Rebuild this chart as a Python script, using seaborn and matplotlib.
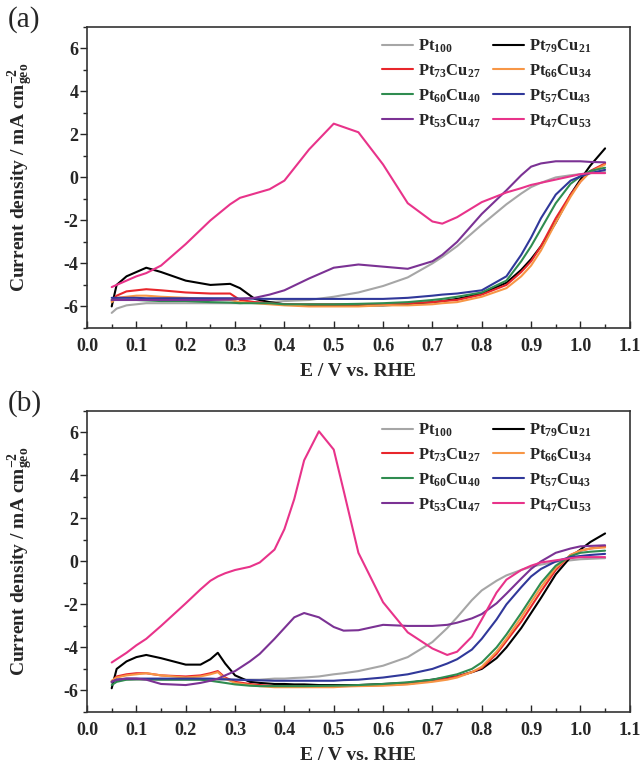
import numpy as np
import pandas as pd
import matplotlib
matplotlib.use('Agg')
import matplotlib.pyplot as plt
from matplotlib.ticker import MultipleLocator
import seaborn as sns

sns.set_style('ticks')
plt.rcParams['font.family'] = ['Liberation Serif', 'DejaVu Serif']
plt.rcParams['font.weight'] = 'bold'
plt.rcParams['mathtext.fontset'] = 'custom'
plt.rcParams['mathtext.rm'] = 'Liberation Serif:bold'
plt.rcParams['mathtext.it'] = 'Liberation Serif:bold'
plt.rcParams['mathtext.bf'] = 'Liberation Serif:bold'
plt.rcParams['axes.unicode_minus'] = False

alloys = [r'Pt$_{100}$', r'Pt$_{79}$Cu$_{21}$', r'Pt$_{73}$Cu$_{27}$', r'Pt$_{66}$Cu$_{34}$',
          r'Pt$_{60}$Cu$_{40}$', r'Pt$_{57}$Cu$_{43}$', r'Pt$_{53}$Cu$_{47}$', r'Pt$_{47}$Cu$_{53}$']
colours = ['#a6a6a6', '#000000', '#e8262b', '#f79646', '#2f8c50', '#30389a', '#7b3294', '#e8338a']

# ---- panel (a) ----
E_a = [0.05, 0.06, 0.08, 0.10, 0.12, 0.15, 0.20, 0.25, 0.29, 0.31, 0.34, 0.37, 0.40, 0.45, 0.50, 0.55,
       0.60, 0.65, 0.70, 0.72, 0.75, 0.80, 0.85, 0.88, 0.90, 0.92, 0.95, 0.98, 1.00, 1.02, 1.05]
a_pt100 = [-6.3, -6.1, -5.95, -5.9, -5.85, -5.85, -5.85, -5.85, -5.85, -5.85, -5.8, -5.8, -5.75, -5.7, -5.55, -5.35,
           -5.05, -4.65, -4.0, -3.7, -3.2, -2.2, -1.25, -0.75, -0.45, -0.25, 0.0, 0.1, 0.15, 0.2, 0.25]
a_pt79 = [-6.0, -5.0, -4.6, -4.4, -4.2, -4.4, -4.8, -5.0, -4.95, -5.15, -5.65, -5.8, -5.9, -5.95, -5.95, -5.95,
          -5.95, -5.9, -5.8, -5.75, -5.65, -5.4, -4.9, -4.3, -3.8, -3.2, -2.1, -0.8, -0.1, 0.55, 1.35]
a_pt73 = [-5.75, -5.5, -5.3, -5.25, -5.2, -5.25, -5.35, -5.4, -5.4, -5.7, -5.8, -5.85, -5.9, -5.9, -5.9, -5.9,
          -5.9, -5.85, -5.8, -5.75, -5.7, -5.45, -5.0, -4.4, -3.9, -3.2, -1.9, -0.8, -0.2, 0.3, 0.65]
a_pt66 = [-5.8, -5.6, -5.55, -5.5, -5.5, -5.55, -5.6, -5.65, -5.7, -5.8, -5.85, -5.9, -5.95, -6.0, -6.0, -6.0,
          -5.95, -5.95, -5.9, -5.85, -5.8, -5.55, -5.15, -4.6, -4.1, -3.4, -2.1, -0.9, -0.2, 0.25, 0.6]
a_pt60 = [-5.7, -5.7, -5.7, -5.7, -5.72, -5.75, -5.75, -5.8, -5.82, -5.85, -5.85, -5.85, -5.9, -5.9, -5.9, -5.88,
          -5.85, -5.8, -5.7, -5.65, -5.55, -5.35, -4.8, -3.9, -3.2, -2.4, -1.2, -0.3, 0.05, 0.3, 0.45]
a_pt57 = [-5.6, -5.6, -5.6, -5.6, -5.62, -5.62, -5.62, -5.62, -5.62, -5.63, -5.64, -5.65, -5.65, -5.65, -5.65, -5.65,
          -5.65, -5.6, -5.5, -5.45, -5.4, -5.25, -4.6, -3.6, -2.8, -1.9, -0.8, -0.15, 0.05, 0.2, 0.35]
a_pt53 = [-5.7, -5.7, -5.7, -5.7, -5.7, -5.7, -5.7, -5.7, -5.68, -5.65, -5.6, -5.45, -5.25, -4.7, -4.2, -4.05,
          -4.15, -4.25, -3.9, -3.6, -3.0, -1.7, -0.6, 0.1, 0.5, 0.65, 0.75, 0.75, 0.75, 0.72, 0.7]
a_pt47 = [-5.1, -5.0, -4.8, -4.6, -4.45, -4.1, -3.1, -2.0, -1.25, -0.95, -0.75, -0.55, -0.15, 1.3, 2.5, 2.1,
          0.6, -1.2, -2.05, -2.15, -1.85, -1.15, -0.7, -0.5, -0.35, -0.25, -0.1, 0.05, 0.15, 0.2, 0.2]

# ---- panel (b) ----
E_b = [0.05, 0.06, 0.08, 0.10, 0.12, 0.15, 0.20, 0.23, 0.25, 0.265, 0.28, 0.30, 0.33, 0.35, 0.38, 0.40,
       0.42, 0.44, 0.47, 0.50, 0.52, 0.55, 0.60, 0.65, 0.70, 0.73, 0.75, 0.78, 0.80, 0.83, 0.85, 0.88,
       0.90, 0.92, 0.95, 0.98, 1.00, 1.02, 1.05]
b_pt100 = [-5.65, -5.55, -5.5, -5.5, -5.5, -5.5, -5.5, -5.5, -5.5, -5.5, -5.5, -5.5, -5.5, -5.5, -5.45, -5.45,
           -5.42, -5.4, -5.35, -5.25, -5.2, -5.1, -4.85, -4.45, -3.75, -3.1, -2.6, -1.8, -1.35, -0.9, -0.65, -0.4,
           -0.25, -0.15, -0.02, 0.05, 0.1, 0.12, 0.15]
b_pt79 = [-5.9, -5.0, -4.65, -4.45, -4.35, -4.5, -4.8, -4.8, -4.55, -4.25, -4.75, -5.3, -5.6, -5.65, -5.7, -5.7,
          -5.72, -5.72, -5.75, -5.75, -5.75, -5.75, -5.7, -5.65, -5.5, -5.4, -5.35, -5.15, -5.0, -4.5, -4.0, -3.1,
          -2.4, -1.7, -0.6, 0.2, 0.55, 0.9, 1.3]
b_pt73 = [-5.6, -5.35, -5.25, -5.2, -5.2, -5.3, -5.35, -5.3, -5.2, -5.1, -5.4, -5.6, -5.7, -5.75, -5.8, -5.8,
          -5.8, -5.8, -5.8, -5.8, -5.8, -5.78, -5.75, -5.7, -5.55, -5.45, -5.35, -5.15, -4.95, -4.3, -3.7, -2.8,
          -2.1, -1.4, -0.4, 0.3, 0.5, 0.6, 0.7]
b_pt66 = [-5.55, -5.4, -5.3, -5.25, -5.2, -5.3, -5.4, -5.35, -5.25, -5.15, -5.45, -5.65, -5.75, -5.8, -5.85, -5.85,
          -5.85, -5.85, -5.85, -5.85, -5.82, -5.8, -5.78, -5.72, -5.6, -5.5, -5.4, -5.15, -4.9, -4.2, -3.6, -2.6,
          -1.9, -1.2, -0.3, 0.3, 0.5, 0.6, 0.65]
b_pt60 = [-5.75, -5.6, -5.5, -5.48, -5.48, -5.5, -5.5, -5.5, -5.55, -5.6, -5.65, -5.72, -5.78, -5.8, -5.8, -5.8,
          -5.8, -5.8, -5.79, -5.78, -5.77, -5.75, -5.7, -5.62, -5.5, -5.35, -5.25, -5.0, -4.7, -4.0, -3.4, -2.4,
          -1.7, -1.0, -0.2, 0.25, 0.4, 0.45, 0.5]
b_pt57 = [-5.6, -5.5, -5.45, -5.45, -5.45, -5.45, -5.45, -5.45, -5.45, -5.47, -5.48, -5.5, -5.52, -5.53, -5.55, -5.55,
          -5.55, -5.55, -5.55, -5.55, -5.52, -5.5, -5.4, -5.25, -5.0, -4.75, -4.55, -4.1, -3.6, -2.7, -2.0, -1.2,
          -0.7, -0.35, 0.0, 0.2, 0.25, 0.3, 0.35]
b_pt53 = [-5.6, -5.5, -5.45, -5.45, -5.5, -5.7, -5.75, -5.65, -5.55, -5.45, -5.3, -5.1, -4.65, -4.3, -3.6, -3.1,
          -2.6, -2.4, -2.6, -3.05, -3.22, -3.2, -2.95, -3.0, -3.0, -2.95, -2.85, -2.65, -2.45, -1.95, -1.5, -0.8,
          -0.35, 0.0, 0.4, 0.6, 0.7, 0.72, 0.75]
b_pt47 = [-4.7, -4.55, -4.25, -3.9, -3.6, -3.0, -1.95, -1.3, -0.9, -0.7, -0.55, -0.4, -0.25, -0.05, 0.55, 1.5,
          2.9, 4.7, 6.05, 5.2, 3.3, 0.4, -1.9, -3.3, -4.05, -4.35, -4.2, -3.5, -2.7, -1.45, -0.85, -0.4,
          -0.2, -0.05, 0.05, 0.15, 0.2, 0.2, 0.2]

panels = [('(a)', E_a, [a_pt100, a_pt79, a_pt73, a_pt66, a_pt60, a_pt57, a_pt53, a_pt47]),
          ('(b)', E_b, [b_pt100, b_pt79, b_pt73, b_pt66, b_pt60, b_pt57, b_pt53, b_pt47])]

fig = plt.figure(figsize=(6.4, 7.68), dpi=100)
rects = [[0.136, 0.573, 0.848, 0.392], [0.136, 0.073, 0.848, 0.392]]
label_y = [0.992, 0.492]

for k, (tag, E, series) in enumerate(panels):
    ax = fig.add_axes(rects[k])
    rows = []
    for name, vals in zip(alloys, series):
        for e, j in zip(E, vals):
            rows.append({'E': e, 'j': j, 'alloy': name})
    df = pd.DataFrame(rows)
    sns.lineplot(data=df, x='E', y='j', hue='alloy', hue_order=alloys, palette=colours,
                 sort=False, estimator=None, linewidth=1.5, ax=ax)

    ax.set_xlim(0.0, 1.1)
    ax.set_ylim(-7, 7)
    ax.xaxis.set_major_locator(MultipleLocator(0.1))
    ax.xaxis.set_minor_locator(MultipleLocator(0.05))
    ax.yaxis.set_major_locator(MultipleLocator(2))
    ax.yaxis.set_minor_locator(MultipleLocator(1))
    ax.xaxis.set_major_formatter(matplotlib.ticker.FormatStrFormatter('%.1f'))
    ax.tick_params(axis='x', which='major', direction='in', length=5, width=1, pad=7, labelsize=13)
    ax.tick_params(axis='x', which='minor', direction='in', length=3, width=1)
    ax.tick_params(axis='y', which='major', direction='out', length=5, width=1, pad=1, labelsize=13)
    ax.tick_params(axis='y', which='minor', direction='out', length=3, width=1)
    for lab in ax.get_xticklabels() + ax.get_yticklabels():
        lab.set_fontweight('bold')
    for sp in ax.spines.values():
        sp.set_linewidth(1.2)
        sp.set_color('#333333')

    ax.set_xlabel('E / V vs. RHE', fontsize=14, fontweight='bold', labelpad=6)
    ax.set_ylabel(r'Current density / mA cm$^{-2}_{geo}$', fontsize=14, fontweight='bold')
    ax.yaxis.set_label_coords(-0.096, 0.5)

    handles, labels = ax.get_legend_handles_labels()
    order = [0, 2, 4, 6, 1, 3, 5, 7]
    ax.legend([handles[i] for i in order], [labels[i] for i in order], ncol=2, frameon=False,
              loc='upper left', bbox_to_anchor=(0.543, 0.965), borderpad=0, borderaxespad=0,
              handlelength=1.9, handletextpad=0.3, columnspacing=0.7, labelspacing=0.45,
              prop={'size': 12, 'weight': 'bold'})

    fig.text(0.012, label_y[k], tag, fontsize=21, fontweight='normal', va='top', ha='left')

fig.savefig('out.png', dpi=100)
